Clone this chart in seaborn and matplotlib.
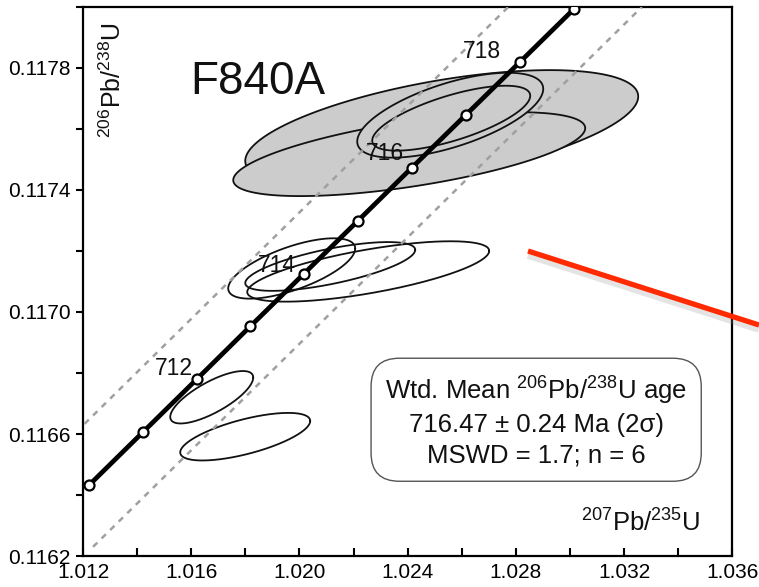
import numpy as np
import matplotlib
matplotlib.use("Agg")
import matplotlib.pyplot as plt
import seaborn as sns
from matplotlib.lines import Line2D
from matplotlib.ticker import MultipleLocator

# ---------------- data ----------------
conc_age = [710, 711, 712, 713, 714, 715, 716, 717, 718, 719]
conc_x = [1.012230, 1.014213, 1.016197, 1.018184, 1.020173,
          1.022163, 1.024156, 1.026150, 1.028146, 1.030145]
conc_y = [0.116433, 0.116606, 0.116779, 0.116953, 0.117126,
          0.117299, 0.117473, 0.117646, 0.117819, 0.117993]
label_ages = [712, 714, 716, 718]

# decay-constant uncertainty envelope (dashed)
env_left_x = [1.00709, 1.02772]
env_left_y = [0.11620, 0.11800]
env_right_x = [1.01237, 1.03266]
env_right_y = [0.11623, 0.11800]

# error ellipses: centre, 2-sigma half widths, correlation, used in mean
ell_x = [1.025261, 1.024059, 1.025575, 1.025612,
         1.019715, 1.021139, 1.022543, 1.016758, 1.017996]
ell_sx = [0.007264, 0.006506, 0.003438, 0.002920,
          0.002348, 0.003142, 0.004473, 0.001534, 0.002403]
ell_y = [0.117601, 0.1175175, 0.1176452, 0.1176354,
         0.1171427, 0.1171493, 0.1171329, 0.1167205, 0.1165912]
ell_sy = [0.000192, 0.0001375, 0.0001391, 0.0001064,
          0.0000990, 0.0000800, 0.0000990, 0.0000860, 0.0000780]
ell_rho = [0.55, 0.62, 0.62, 0.69, 0.66, 0.68, 0.68, 0.75, 0.66]
ell_used = [True, True, True, True, False, False, False, False, False]

x_ticks = [1.012, 1.016, 1.020, 1.024, 1.028, 1.032, 1.036]
x_tick_labels = ["1.012", "1.016", "1.020", "1.024", "1.028", "1.032", "1.036"]
y_ticks = [0.1162, 0.1166, 0.1170, 0.1174, 0.1178]
y_tick_labels = ["0.1162", "0.1166", "0.1170", "0.1174", "0.1178"]

sample_name = "F840A"
box_text = ("Wtd. Mean $^{206}$Pb/$^{238}$U age\n"
            "716.47 \u00b1 0.24 Ma (2\u03c3)\n"
            "MSWD = 1.7; n = 6")

# ---------------- style ----------------
sns.set_theme(style="white")
plt.rcParams["font.family"] = ["Liberation Sans", "DejaVu Sans"]
plt.rcParams["mathtext.fontset"] = "custom"
plt.rcParams["mathtext.rm"] = "Liberation Sans"
plt.rcParams["mathtext.it"] = "Liberation Sans:italic"
plt.rcParams["mathtext.bf"] = "Liberation Sans:bold"

fig = plt.figure(figsize=(7.59, 5.87), dpi=100)
fig.patch.set_facecolor("white")
ax = fig.add_axes([0.1094, 0.0528, 0.8553, 0.9353])
ax.set_facecolor("white")

ax.set_xlim(1.012, 1.036)
ax.set_ylim(0.1162, 0.1180)

# ellipses
t = np.linspace(0, 2 * np.pi, 300)
for cx, sx, cy, sy, r, used in zip(ell_x, ell_sx, ell_y, ell_sy, ell_rho, ell_used):
    ex = cx + sx * np.cos(t)
    ey = cy + sy * (r * np.cos(t) + np.sqrt(1 - r * r) * np.sin(t))
    if used:
        ax.fill(ex, ey, facecolor="#cccccc", edgecolor="#111111", lw=1.3, zorder=2)
    else:
        ax.plot(ex, ey, color="#111111", lw=1.3, zorder=2)

# envelope
for xs, ys in ((env_left_x, env_left_y), (env_right_x, env_right_y)):
    ax.plot(xs, ys, color="#a0a0a0", lw=1.8, dashes=(2.4, 2.4), zorder=3)

# concordia
sns.lineplot(x=conc_x, y=conc_y, sort=False, color="black", lw=3.4, ax=ax,
             zorder=5, legend=False)
sns.scatterplot(x=conc_x, y=conc_y, s=52, color="white", edgecolor="black",
                linewidth=1.6, ax=ax, zorder=6, legend=False)

label_offsets = {712: (-4, 4), 714: (-8, 2), 716: (-8, 8), 718: (-19, 4)}
for age in label_ages:
    i = conc_age.index(age)
    dx, dy = label_offsets[age]
    ax.annotate(str(age), xy=(conc_x[i], conc_y[i]),
                xytext=(dx * 0.72, dy * 0.72), textcoords="offset points",
                ha="right", va="baseline", fontsize=16.5, color="#111111", zorder=7)

# ticks
ax.set_xticks(x_ticks)
ax.set_xticklabels(x_tick_labels)
ax.xaxis.set_minor_locator(MultipleLocator(0.002))
ax.set_yticks(y_ticks)
ax.set_yticklabels(y_tick_labels)
ax.yaxis.set_minor_locator(MultipleLocator(0.0002))
ax.tick_params(axis="x", which="both", direction="in", length=6, width=1.5,
               labelsize=15, pad=5, colors="black", bottom=True)
ax.tick_params(axis="y", which="both", direction="out", length=5, width=1.5,
               labelsize=15, pad=4, colors="black", left=True)
for s in ax.spines.values():
    s.set_linewidth(1.6)
    s.set_color("black")
    s.set_visible(True)
ax.grid(False)

# texts
ax.text(0.165, 0.842, sample_name, transform=ax.transAxes, fontsize=33,
        ha="left", va="baseline", color="#111111")
ax.text(0.046, 0.867, "$^{206}$Pb/$^{238}$U", transform=ax.transAxes,
        rotation=90, fontsize=18, ha="center", va="center", color="#111111")
ax.text(0.951, 0.0437, "$^{207}$Pb/$^{235}$U", transform=ax.transAxes,
        fontsize=18.5, ha="right", va="baseline", color="#111111")
ax.text(0.698, 0.246, box_text, transform=ax.transAxes, fontsize=18.5,
        ha="center", va="center", multialignment="center", linespacing=1.32,
        color="#111111", zorder=8,
        bbox=dict(boxstyle="round,pad=0.55,rounding_size=1.1",
                  facecolor="white", edgecolor="#555555", lw=1.0))

# red pointer line with soft shadow
fig.add_artist(Line2D([528 / 759, 1.0], [1 - 255 / 587, 1 - 329 / 587],
                      color="#888888", lw=5.5, alpha=0.22,
                      solid_capstyle="butt", clip_on=False))
fig.add_artist(Line2D([528 / 759, 1.0], [1 - 251 / 587, 1 - 325 / 587],
                      color="#ff2a00", lw=3.8, solid_capstyle="butt",
                      clip_on=False))

fig.savefig("out.png", dpi=100, facecolor="white")
